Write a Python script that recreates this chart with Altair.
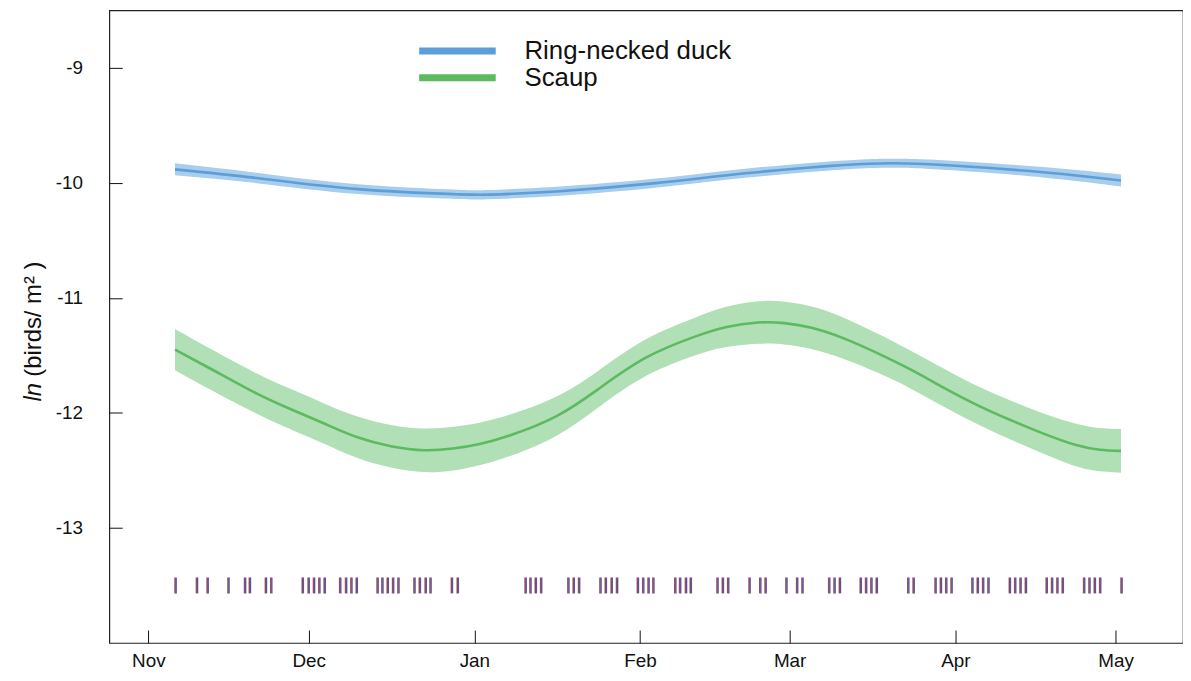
import altair as alt
import pandas as pd

# ---- axis ticks ----
month_days = [0, 30, 61, 92, 120, 151, 181]
month_labels = ["Nov", "Dec", "Jan", "Feb", "Mar", "Apr", "May"]
y_ticks = [-13, -12, -11, -10, -9]

species = ["Ring-necked duck", "Scaup"]
line_colors = ["#5b9ed8", "#5cba60"]
band_colors = ["#a9cdec", "#b1dfb6"]

# ---- Ring-necked duck (days since 1 Nov) ----
ring_day = [5, 20.6, 39.2, 57.8, 63.9, 76.3, 94.9, 111.7, 130.2, 139.5, 148.8, 167.4, 182]
ring_fit = [-9.883, -9.96, -10.055, -10.10, -10.103, -10.075, -10.003, -9.917, -9.845, -9.83, -9.845, -9.908, -9.98]
ring_lo = [-9.935, -10.005, -10.097, -10.14, -10.143, -10.115, -10.043, -9.957, -9.885, -9.87, -9.887, -9.953, -10.032]
ring_hi = [-9.831, -9.915, -10.013, -10.06, -10.063, -10.035, -9.963, -9.877, -9.805, -9.79, -9.803, -9.863, -9.928]

# ---- Scaup ----
scaup_day = [5, 12, 20.6, 27, 33, 39, 45.4, 51.6, 57, 62, 68, 76.3, 84, 93.1, 102.4, 108,
             114.1, 119, 124.1, 130, 136.4, 142.5, 148.8, 155, 161.2, 167.5, 173.6, 178, 182]
scaup_fit = [-11.45, -11.625, -11.84, -11.975, -12.095, -12.21, -12.29, -12.325, -12.31, -12.27,
             -12.19, -12.03, -11.80, -11.52, -11.335, -11.255, -11.215, -11.22, -11.26, -11.35,
             -11.48, -11.62, -11.78, -11.93, -12.06, -12.18, -12.28, -12.32, -12.33]
scaup_lo = [-11.63, -11.808, -12.015, -12.15, -12.27, -12.39, -12.475, -12.515, -12.50, -12.455,
            -12.37, -12.20, -11.96, -11.68, -11.50, -11.43, -11.40, -11.405, -11.445, -11.53,
            -11.65, -11.785, -11.945, -12.095, -12.23, -12.355, -12.465, -12.508, -12.52]
scaup_hi = [-11.27, -11.452, -11.665, -11.80, -11.92, -12.03, -12.105, -12.135, -12.12, -12.085,
            -12.01, -11.86, -11.64, -11.36, -11.17, -11.08, -11.03, -11.035, -11.075, -11.17,
            -11.31, -11.455, -11.615, -11.765, -11.89, -12.005, -12.095, -12.132, -12.14]

# ---- survey dates (rug) ----
rug_day = [5.0, 9.0, 11.0, 14.9, 18.0, 18.9, 21.9, 22.9, 28.8, 29.9, 30.9, 31.9, 32.9,
           35.8, 36.9, 37.9, 38.9, 42.8, 43.7, 44.7, 45.7, 46.7, 49.7, 50.7, 51.8, 52.7,
           56.7, 57.8, 70.5, 71.4, 72.4, 73.4, 78.5, 79.5, 80.5, 84.5, 85.5, 86.6, 87.6,
           91.5, 92.5, 93.5, 94.4, 98.5, 99.4, 100.5, 101.4, 106.4, 107.4, 108.4, 112.4,
           114.4, 115.4, 119.3, 121.3, 122.3, 127.3, 128.3, 129.3, 133.2, 134.2, 135.2,
           136.2, 142.1, 143.1, 147.2, 148.2, 149.2, 150.2, 154.1, 155.1, 156.1, 157.1,
           161.1, 162.1, 163.1, 164.1, 168.0, 169.0, 170.0, 171.0, 175.0, 176.0, 177.0,
           178.0, 182.0]

ring_df = pd.DataFrame({"species": species[0], "day": ring_day, "fit": ring_fit, "lo": ring_lo, "hi": ring_hi})
scaup_df = pd.DataFrame({"species": species[1], "day": scaup_day, "fit": scaup_fit, "lo": scaup_lo, "hi": scaup_hi})
curves = pd.concat([ring_df, scaup_df])
rug = pd.DataFrame({"day": rug_day})

FONT = "Liberation Sans"
label_expr = "{}[indexof({}, datum.value)]".format(
    "[" + ",".join("'%s'" % m for m in month_labels) + "]",
    "[" + ",".join(str(d) for d in month_days) + "]",
)

x_enc = alt.X(
    "day:Q",
    scale=alt.Scale(domain=[-7.3, 193.6], nice=False, zero=False),
    axis=alt.Axis(values=month_days, labelExpr=label_expr, title=None, grid=False,
                  domain=False, offset=-13, tickSize=13, tickColor="#111", tickWidth=1,
                  labelPadding=9, labelFont=FONT, labelFontSize=19, labelColor="#111"),
)
y_scale = alt.Scale(domain=[-14, -8.5], nice=False, zero=False)
y_axis = alt.Axis(values=y_ticks, labelExpr="'' + datum.value", title=None, grid=False,
                  domain=False, offset=-13, tickSize=13, tickColor="#111", tickWidth=1,
                  labelPadding=27, labelFont=FONT, labelFontSize=19, labelColor="#111")


def band(df, colour):
    return alt.Chart(df).mark_area(interpolate="natural", color=colour, opacity=1).encode(
        x=x_enc,
        y=alt.Y("lo:Q", scale=y_scale, axis=y_axis),
        y2="hi:Q",
    )


lines = alt.Chart(curves).mark_line(interpolate="natural", strokeWidth=2.6).encode(
    x=x_enc,
    y=alt.Y("fit:Q", scale=y_scale, axis=y_axis),
    color=alt.Color(
        "species:N",
        scale=alt.Scale(domain=species, range=line_colors),
        legend=alt.Legend(title=None, orient="none", legendX=337.5, legendY=28,
                          symbolType="M-6,0H6", symbolSize=165, symbolStrokeWidth=7,
                          labelFont=FONT, labelFontSize=26, labelColor="#111",
                          labelLimit=0, labelOffset=54.5, rowPadding=-3, padding=0),
    ),
)

rug_red = alt.Chart(rug).mark_tick(orient="vertical", size=16, thickness=1.5, color="#6e0018").encode(
    x=x_enc, y=alt.datum(-13.5, scale=y_scale)
)
rug_blue = alt.Chart(rug).mark_tick(orient="vertical", size=16, thickness=1.3, color="#12127c", xOffset=1.2).encode(
    x=x_enc, y=alt.datum(-13.5, scale=y_scale)
)

title_ln = alt.Chart(pd.DataFrame({"t": ["ln"]})).mark_text(
    angle=270, align="left", baseline="alphabetic", font=FONT, fontSize=24,
    fontStyle="italic", color="#111"
).encode(x=alt.value(-69), y=alt.value(394), text="t:N")

title_rest = alt.Chart(pd.DataFrame({"t": ["(birds/ m² )"]})).mark_text(
    angle=270, align="left", baseline="alphabetic", font=FONT, fontSize=24, color="#111"
).encode(x=alt.value(-69), y=alt.value(369), text="t:N")

chart = alt.layer(
    band(ring_df, band_colors[0]), band(scaup_df, band_colors[1]),
    lines, rug_red, rug_blue, title_ln, title_rest
).properties(
    width=1081, height=637,
    autosize=alt.AutoSizeParams(type="none"),
    padding={"left": 102, "top": 0, "right": 0, "bottom": 30},
).configure(background="white").configure_view(stroke="#222", strokeWidth=1.2)

chart.save("out.html", embed_options={"renderer": "svg", "actions": False})
